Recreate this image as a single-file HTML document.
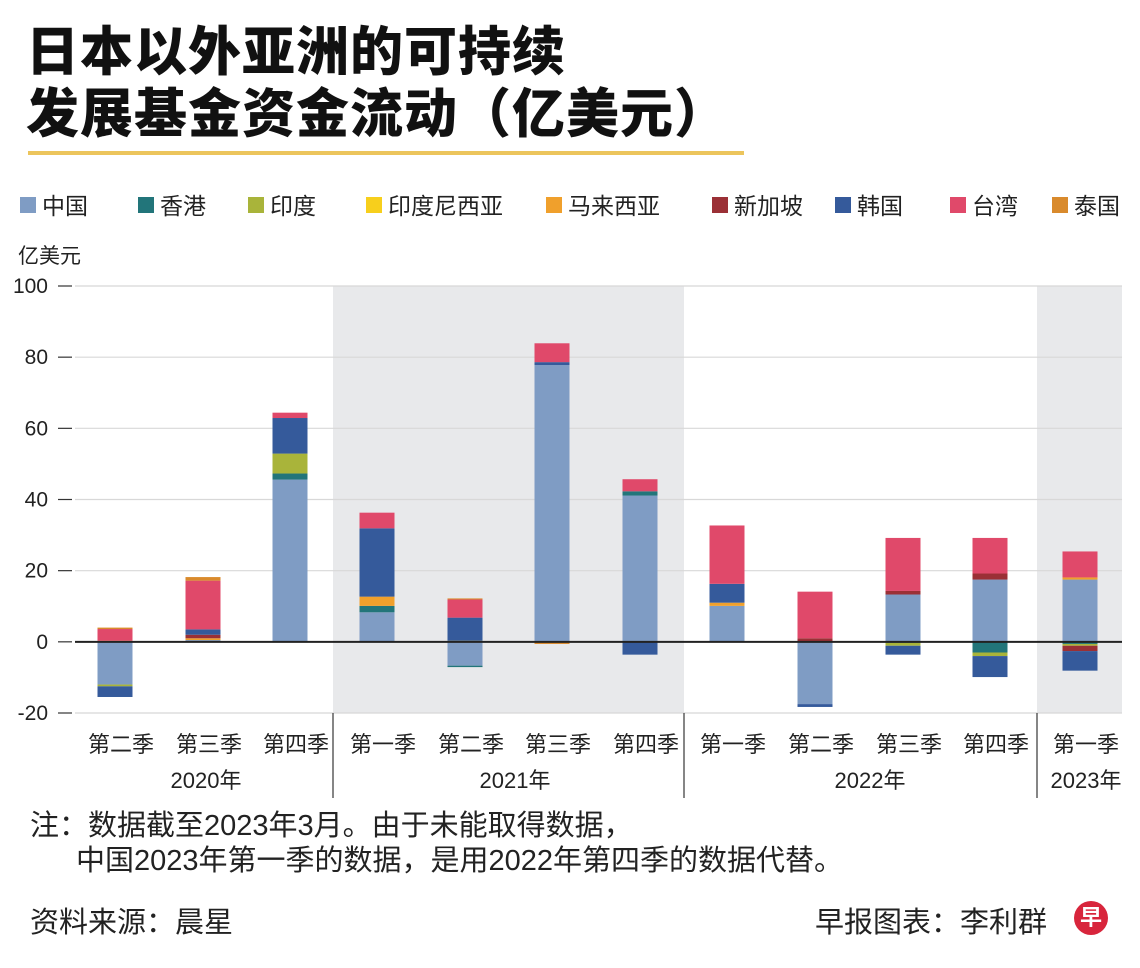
<!DOCTYPE html>
<html><head><meta charset="utf-8"><style>
body{margin:0;background:#fff;font-family:"Liberation Sans","Noto Sans CJK SC",sans-serif;}
#wrap{position:relative;width:1140px;height:968px;overflow:hidden;}
.t{position:absolute;white-space:nowrap;}
</style></head><body>
<div id="wrap">
<div class="t" style="left:26px;top:22px;font-size:53px;font-weight:900;line-height:62px;color:#111;letter-spacing:1px;">日本以外亚洲的可持续<br>发展基金资金流动（亿美元）</div>
<div style="position:absolute;left:28px;top:151px;width:716px;height:4px;background:#ecc55c;"></div>
<div class="t" style="left:18px;top:240px;font-size:21px;color:#222;">亿美元</div>
<div class="t" style="left:30px;top:809px;font-size:29px;color:#222;line-height:35px;">注：数据截至2023年3月。由于未能取得数据，</div>
<div class="t" style="left:76px;top:844px;font-size:29px;color:#222;line-height:35px;">中国2023年第一季的数据，是用2022年第四季的数据代替。</div>
<div class="t" style="left:30px;top:899px;font-size:29px;color:#222;">资料来源：晨星</div>
<div class="t" style="left:815px;top:899px;font-size:29px;color:#222;">早报图表：李利群</div>
<div style="position:absolute;left:1074px;top:901px;width:34px;height:34px;border-radius:50%;background:#d8253c;color:#fff;font-size:22px;font-weight:bold;text-align:center;line-height:34px;">早</div>
<svg id="chart" width="1140" height="968" style="position:absolute;left:0;top:0"></svg>
</div>
<script>
const seriesNames=["中国","香港","印度","印度尼西亚","马来西亚","新加坡","韩国","台湾","泰国"];
const seriesColors=["#7f9cc4","#22757a","#a9b43a","#f7cf1c","#f0a02c","#9b3036","#355a9b","#e0496a","#d98a2c"];
const quarters=["第二季","第三季","第四季","第一季","第二季","第三季","第四季","第一季","第二季","第三季","第四季","第一季"];
const yearLabels=["2020年","2021年","2022年","2023年"];
const yTicks=[100,80,60,40,20,0,-20];
// per-series values for each quarter
const china=[-12,0.5,45.6,8.3,-6.7,77.8,41.1,10.1,-17.5,13.3,17.5,17.5];
const hongkong=[0,0,1.7,1.8,-0.4,0,1.2,0,0,-0.3,-3,-0.6];
const india=[-0.5,0,5.6,0,0,0,0,0,0,-0.8,-1,-0.5];
const indonesia=[0,0,0,0,0.3,0,0,0,0,0,0,0];
const malaysia=[0.3,0.5,0,2.6,0,0,0,0.9,0,0,0,0.6];
const singapore=[0,1,0,0,0,0,0,0,1,1,1.7,-1.5];
const korea=[-3,1.5,10,19.2,6.5,0.8,-3.6,5.3,-0.8,-2.5,-5.9,-5.5];
const taiwan=[3.3,13.7,1.5,4.4,5.1,5.3,3.4,16.4,13.1,14.9,10,7.3];
const thailand=[0.4,1,0,0,0.3,-0.6,0,0,0,0,0,0];
const seriesValues=[china,hongkong,india,indonesia,malaysia,singapore,korea,taiwan,thailand];

const NS="http://www.w3.org/2000/svg";
const svg=document.getElementById('chart');
const X0=75,X1=1122,Y0=286,Y1=713,VMAX=100,VMIN=-20;
function y(v){return Y0+(VMAX-v)/(VMAX-VMIN)*(Y1-Y0);}
const centers=[115,203,290,377,465,552,640,727,815,903,990,1080];
function xc(i){return centers[i];}
function mk(tag,attrs){const e=document.createElementNS(NS,tag);for(const k in attrs)e.setAttribute(k,attrs[k]);svg.appendChild(e);return e;}

let b=mk('rect',{x:333,y:Y0,width:351,height:Y1-Y0,fill:'#e8e9eb'});


b=mk('rect',{x:1037,y:Y0,width:85,height:Y1-Y0,fill:'#e8e9eb'});



yTicks.forEach(t=>{
  const g=mk('line',{x1:X0,x2:X1,y1:y(t),y2:y(t),stroke:'#d8d8d8','stroke-width':1.2});
  
  
  const tk=mk('line',{x1:58,x2:72,y1:y(t),y2:y(t),stroke:'#333','stroke-width':1.2});
  
  
  const tx=mk('text',{x:48,y:y(t)+7,'text-anchor':'end','font-size':21,fill:'#222'});
  tx.textContent=t;
  
  
});

const BW=35;
quarters.forEach((q,i)=>{
  let pos=0,neg=0;
  seriesValues.forEach((s,k)=>{
    const v=s[i]; if(!v) return;
    let top,bot;
    if(v>0){bot=pos;pos+=v;top=pos;}else{top=neg;neg+=v;bot=neg;}
    const r=mk('rect',{x:xc(i)-BW/2,y:y(top),width:BW,height:Math.max(0.5,y(bot)-y(top)),fill:seriesColors[k]});
    
    
  });
  const l=mk('text',{x:xc(i)+6,y:752,'text-anchor':'middle','font-size':22,fill:'#222'});
  l.textContent=q;
  
  
});
const z=mk('line',{x1:X0,x2:X1,y1:y(0),y2:y(0),stroke:'#222','stroke-width':2});



[333,684,1037].forEach(xx=>{
  const d=mk('line',{x1:xx,x2:xx,y1:713,y2:798,stroke:'#444','stroke-width':1.3});
  
  
});
const yearX=[206,515,870,1086];
yearLabels.forEach((yl,i)=>{
  const t=mk('text',{x:yearX[i],y:788,'text-anchor':'middle','font-size':22,fill:'#222'});
  t.textContent=yl;
  
  
});

const legendX=[20,138,248,366,546,712,835,950,1052];
seriesNames.forEach((n,k)=>{
  const r=mk('rect',{x:legendX[k],y:197,width:16,height:16,fill:seriesColors[k]});
  
  
  const t=mk('text',{x:legendX[k]+22,y:214,'font-size':23,fill:'#222'});
  t.textContent=n;
  
  
});
</script>
</body></html>
